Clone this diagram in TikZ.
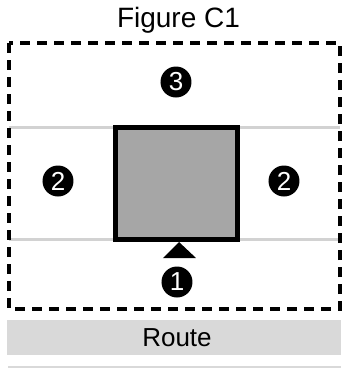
\documentclass[tikz,border=0pt]{standalone}
\usepackage{fontspec}
\setmainfont{Liberation Sans}
\begin{document}
\begin{tikzpicture}[x=1pt,y=-1pt,
  numdot/.style={circle,fill=black,inner sep=0pt,minimum size=31pt,text=white,font=\fontsize{26}{26}\selectfont},
  gridline/.style={draw=gray!35,line width=3pt},
  bar/.style={fill=gray!30,draw=none}]
\useasboundingbox (0,0) rectangle (343,368);
% title
\node[anchor=base,font=\fontsize{28}{28}\selectfont,inner sep=0pt] (title) at (178.5,27) {Figure C1};
% grey horizontal lines
\coordinate (l1a) at (9,127); \coordinate (l1b) at (340,127);
\coordinate (l2a) at (9,239); \coordinate (l2b) at (340,239);
\draw[gridline] (l1a) -- (l1b);
\draw[gridline] (l2a) -- (l2b);
% dashed frame
\draw[line width=3.2pt,dash pattern=on 10pt off 7pt] (9,43) rectangle (340,309);
% central square
\node[draw=black,fill=gray!70,line width=5.5pt,minimum width=122pt,minimum height=112pt,inner sep=0pt] (sq) at (176.5,183.5) {};
% triangle
\fill[black] (179,242) -- (196,258) -- (163,258) -- cycle;
% numbers
\node[numdot] (n3) at (176,82) {3};
\node[numdot] (n2l) at (58,181) {2};
\node[numdot] (n2r) at (284,181) {2};
\node[numdot] (n1) at (177,282) {1};
% route bar
\fill[bar] (7,320) rectangle (341,355);
\node[anchor=base,font=\fontsize{26}{26}\selectfont,inner sep=0pt] (route) at (177,346) {Route};
\fill[bar] (8,366) rectangle (341,368);
\end{tikzpicture}
\end{document}
